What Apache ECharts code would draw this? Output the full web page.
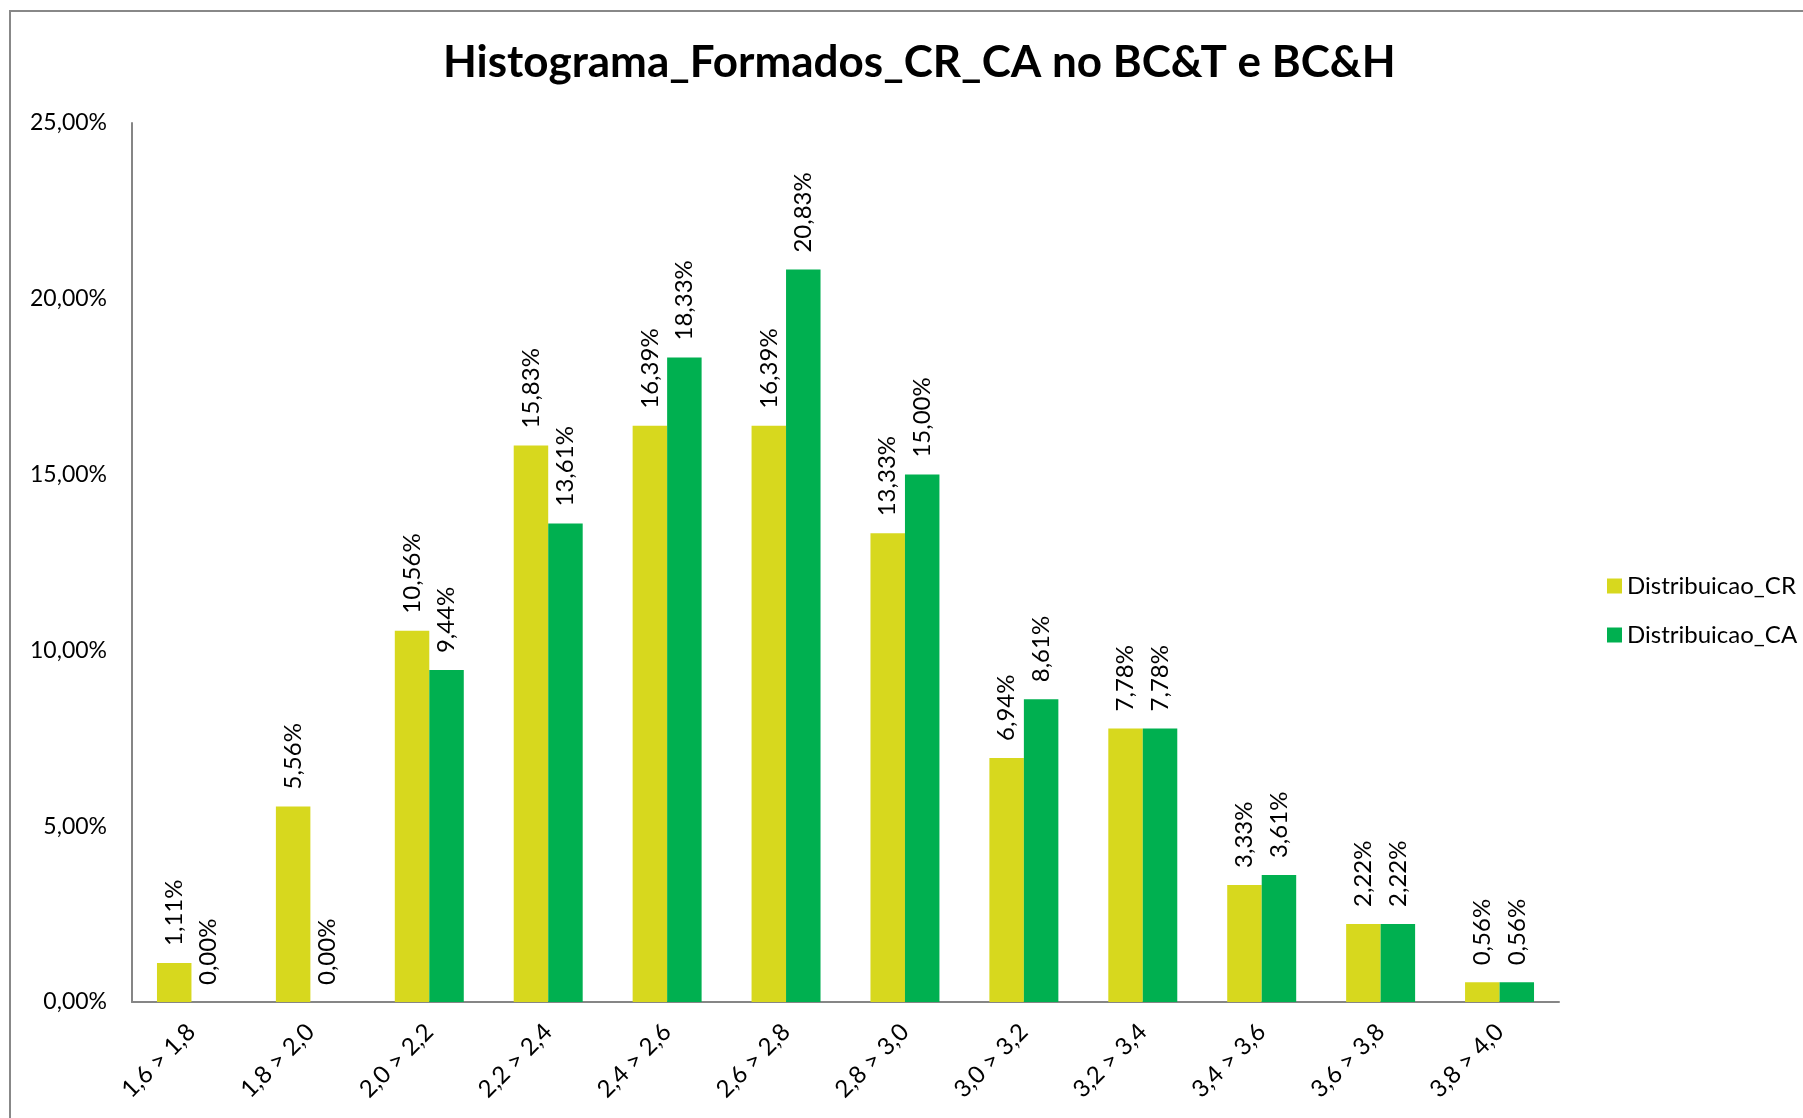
<!DOCTYPE html>
<html>
<head>
<meta charset="utf-8">
<script src="https://cdn.jsdelivr.net/npm/echarts@6/dist/echarts.min.js"></script>
<style>
html,body{margin:0;padding:0;background:#fff;}
#chart{width:1803px;height:1118px;}
</style>
</head>
<body>
<div id="chart"></div>
<script>
let categories = ['1,6 > 1,8','1,8 > 2,0','2,0 > 2,2','2,2 > 2,4','2,4 > 2,6','2,6 > 2,8','2,8 > 3,0','3,0 > 3,2','3,2 > 3,4','3,4 > 3,6','3,6 > 3,8','3,8 > 4,0'];
let distCR = [1.11,5.56,10.56,15.83,16.39,16.39,13.33,6.94,7.78,3.33,2.22,0.56];
let distCA = [0.00,0.00,9.44,13.61,18.33,20.83,15.00,8.61,7.78,3.61,2.22,0.56];
let seriesNames = ['Distribuicao_CR','Distribuicao_CA'];

function pct(v){
    return v.toFixed(2).replace('.',',') + '%';
}

/*rotulo das barras*/
let barLabel = {
    show:true,
    position:'top',
    rotate:90,
    align:'left',
    verticalAlign:'middle',
    distance:17,
    color:'#000',
    fontFamily:'Lato',
    fontSize:24,
    formatter(p){ return pct(p.value); }
};

let chart = echarts.init(document.getElementById('chart'));
let option = {
    backgroundColor:'#fff',
    animation:false,
    title:{
        text:'Histograma_Formados_CR_CA no BC&T e BC&H',
        left:438,
        top:36,
        textStyle:{
            fontFamily:'Lato',
            fontWeight:'bold',
            fontSize:44,
            color:'#000'
        }
    },
    graphic:[{
        type:'rect',
        shape:{x:10,y:11,width:2000,height:2000},
        style:{fill:'none',stroke:'#888',lineWidth:2},
        silent:true
    }],
    legend:{
        orient:'vertical',
        left:1602,
        top:569,
        itemWidth:15,
        itemHeight:15,
        itemGap:25,
        icon:'rect',
        data:seriesNames,
        textStyle:{
            fontFamily:'Lato',
            fontSize:24,
            color:'#000',
            lineHeight:20
        }
    },
    grid:{
        left:132,
        right:244,
        top:123,
        bottom:116
    },
    xAxis:{
        type:'category',
        data:categories,
        axisLine:{lineStyle:{color:'#868686',width:2}},
        axisTick:{show:false},
        axisLabel:{
            interval:0,
            rotate:45,
            margin:26,
            color:'#000',
            fontFamily:'Lato',
            fontSize:24
        }
    },
    yAxis:{
        type:'value',
        min:0,
        max:25,
        interval:5,
        axisLine:{show:true,lineStyle:{color:'#868686',width:2}},
        axisTick:{show:false},
        splitLine:{show:false},
        axisLabel:{
            margin:25,
            color:'#000',
            fontFamily:'Lato',
            fontSize:23,
            formatter(v){ return pct(v); }
        }
    },
    series:[
        {
            type:'bar',
            name:seriesNames[0],
            data:distCR,
            barGap:'0%',
            barCategoryGap:'42%',
            itemStyle:{color:'#D7D81E'},
            label:barLabel
        },
        {
            type:'bar',
            name:seriesNames[1],
            data:distCA,
            barGap:'0%',
            barCategoryGap:'42%',
            itemStyle:{color:'#00B050'},
            label:barLabel
        }
    ]
};
chart.setOption(option);
</script>
</body>
</html>
